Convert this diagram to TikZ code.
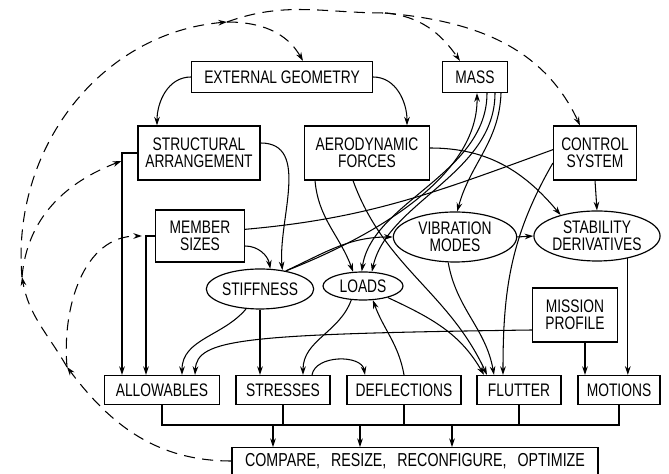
\documentclass[tikz,border=0pt]{standalone}
\usepackage{fontspec}
\setmainfont{Liberation Sans}[FakeStretch=0.76]
\usetikzlibrary{shapes.geometric,arrows.meta}
\begin{document}
\begin{tikzpicture}[x=0.3mm, y=0.3mm,
      caja/.style={draw, line width=1pt, minimum height=0.87cm, inner sep=1pt, align=center, font=\fontsize{15.5}{14.5}\selectfont},
      ovalo/.style={ellipse, draw, line width=1pt, inner sep=0pt, align=center, font=\fontsize{15.5}{14.5}\selectfont},
      linea/.style={line width=0.9pt},
      flecha/.style={line width=0.9pt, -{Stealth[length=2.6mm,width=1.7mm]}},
      retro/.style={flecha, dash pattern=on 3.3mm off 2.2mm}
    ]
    \useasboundingbox (0,0) rectangle (669,474);

    % --- cajas de arriba ---
    \node[caja, minimum width=5.43cm, minimum height=0.93cm] (geo) at (282,397) {EXTERNAL GEOMETRY};
    \node[caja, minimum width=1.95cm, minimum height=0.93cm] (mass) at (475,397) {MASS};
    \node[caja, minimum width=3.66cm, minimum height=1.62cm] (arr) at (199,321) {STRUCTURAL\\ARRANGEMENT};
    \node[caja, minimum width=3.75cm, minimum height=1.62cm] (aero) at (367,321) {AERODYNAMIC\\FORCES};
    \node[caja, minimum width=2.49cm, minimum height=1.62cm] (ctrl) at (595,321) {CONTROL\\SYSTEM};
    \node[caja, minimum width=2.67cm, minimum height=1.56cm] (sizes) at (200,238) {MEMBER\\SIZES};

    % --- ovalos ---
    \node[ovalo, minimum width=3.7cm, minimum height=1.5cm] (vib) at (455,237) {VIBRATION\\MODES};
    \node[ovalo, minimum width=3.75cm, minimum height=1.5cm] (stab) at (597,238) {STABILITY\\DERIVATIVES};
    \node[ovalo, minimum width=3.0cm, minimum height=1.2cm] (stiff) at (260,185) {STIFFNESS};
    \node[ovalo, minimum width=2.4cm, minimum height=0.84cm] (loads) at (363,188) {LOADS};
    \node[caja, minimum width=2.55cm, minimum height=1.62cm] (mission) at (575,159) {MISSION\\PROFILE};

    % --- resultados ---
    \node[caja, minimum width=3.45cm] (allow) at (162,84) {ALLOWABLES};
    \node[caja, minimum width=2.82cm] (stress) at (283,84) {STRESSES};
    \node[caja, minimum width=3.42cm] (defl) at (404,84) {DEFLECTIONS};
    \node[caja, minimum width=2.52cm] (flut) at (519,84) {FLUTTER};
    \node[caja, minimum width=2.46cm] (mot) at (619,84) {MOTIONS};
    \node[caja, minimum width=10.98cm, minimum height=0.8cm, font=\fontsize{16}{15}\selectfont] (comp) at (415,13) {\spaceskip=0.33cm\relax COMPARE, RESIZE, RECONFIGURE, OPTIMIZE};

    % --- conexiones ---
    \draw[flecha] (geo.west) to[out=180,in=90] ([xshift=-1.26cm]arr.north);
    \draw[flecha] (geo.east) to[out=0,in=90] ([xshift=1.2cm]aero.north);
    \draw[flecha] ([yshift=0.3cm]arr.east) to[out=0,in=95] (stiff.40);
    \draw[flecha] (arr.west) -| ([xshift=-1.2cm]allow.north);
    \draw[flecha] (sizes.west) -| ([xshift=-0.48cm]allow.north);
    \draw[flecha] ([yshift=-0.3cm]sizes.east) to[out=0,in=100] (stiff.63);
    \draw[linea] ([yshift=0.2cm]sizes.east) to[out=5,in=200] ([yshift=0.1cm]ctrl.west);
    \draw[flecha] ([xshift=-1.56cm]aero.south) to[out=-85,in=110] (loads.125);
    \draw[flecha] ([xshift=-0.42cm]aero.south) to[out=-70,in=115] ([xshift=-0.96cm]flut.north);
    \draw[flecha] ([yshift=0.15cm]aero.east) to[out=0,in=130] (stab.150);
    \draw[flecha] (ctrl.south) -- (stab.north);
    \draw[flecha] ([yshift=-0.3cm]ctrl.west) to[out=-120,in=90] ([xshift=-0.48cm]flut.north);
    \draw[flecha] (stiff.35) .. controls (380,240) and (478,300) .. ([xshift=0.06cm]mass.south);
    \draw[flecha] ([xshift=0.36cm]mass.south) .. controls (487,300) and (372,272) .. (loads.95);
    \draw[flecha] ([xshift=0.6cm]mass.south) .. controls (495,300) and (387,272) .. (loads.58);
    \draw[flecha] ([xshift=0.78cm]mass.south) to[out=-92,in=75] (vib.85);
    \draw[flecha] (stiff.35) to[out=25,in=180] (vib.west);
    \draw[flecha] (vib.east) -- (stab.west);
    \draw[flecha] (vib.-105) to[out=-80,in=100] ([xshift=-0.75cm]flut.north);
    \draw[flecha] (loads.-130) to[out=-110,in=90] ([xshift=0.6cm]stress.north);
    \draw[flecha] ([xshift=0.87cm]stress.north) to[out=80,in=100] ([xshift=-1.17cm]defl.north);
    \draw[flecha] (defl.north) to[out=100,in=-70] (loads.-55);
    \draw[flecha] (loads.-25) to[out=-25,in=120] ([xshift=-1.05cm]flut.north);
    \draw[flecha] (stiff.-125) to[out=-130,in=90] ([xshift=0.6cm]allow.north);
    \draw[flecha] (stiff.south) -- (stiff.south |- stress.north);
    \draw[flecha] ([yshift=-0.45cm]mission.west) .. controls (240,140) and (197,135) .. ([xshift=0.99cm]allow.north);
    \draw[flecha] ([xshift=0.3cm]mission.south) -- ([xshift=0.3cm]mission.south |- mot.north);
    \draw[flecha] (stab.-36) -- (stab.-36 |- mot.north);

    % --- barra de abajo ---
    \coordinate (bi) at (162,49);
    \coordinate (bd) at (619,49);
    \draw[linea] (allow.south) -- (bi) -- (bd) -- (mot.south);
    \foreach \n in {stress,defl,flut}
      \draw[linea] (\n.south) -- (\n.south |- bi);
    \foreach \d in {-4.26,-1.65,1.11}
      \draw[flecha] ([xshift=\d cm]comp.north |- bi) -- ([xshift=\d cm]comp.north);

    % --- realimentacion ---
    \coordinate (r1) at (67,107);
    \coordinate (r2) at (22,197);
    \coordinate (r3) at (227,452);
    \coordinate (r4) at (385,461);
    \draw[retro] (comp.west) to[out=180,in=-53] (r1);
    \draw[retro] (r1) to[out=120,in=-80] (r2);
    \draw[retro] (r1) to[out=95,in=180] ([xshift=-0.39cm]sizes.west);
    \draw[retro] (r2) to[out=85,in=201] ([xshift=-0.48cm,yshift=-0.24cm]arr.west);
    \draw[retro] (r2) to[out=95,in=185] (r3);
    \draw[retro] (r3) to[out=0,in=120] ([xshift=0.63cm]geo.north);
    \draw[retro, -] (r3) to[out=20,in=180] (r4);
    \draw[retro] (r4) to[out=-5,in=125] ([xshift=-0.45cm]mass.north);
    \draw[retro] (r4) to[out=-5,in=115] ([xshift=-0.45cm]ctrl.north);
  \end{tikzpicture}
\end{document}
